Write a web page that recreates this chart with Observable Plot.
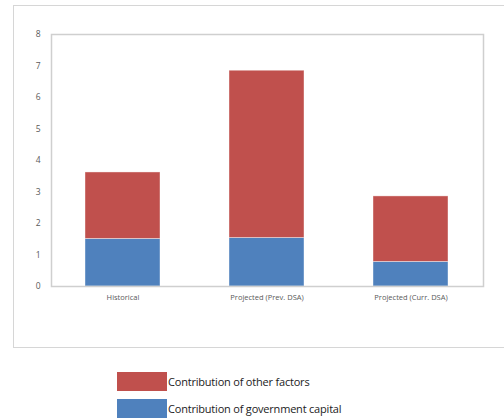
<!DOCTYPE html>
<html>
<head>
<meta charset="utf-8">
<script src="https://cdn.jsdelivr.net/npm/d3@7"></script>
<script src="https://cdn.jsdelivr.net/npm/@observablehq/plot@0.6"></script>
<style>
  body { margin: 0; background: #fff; width: 504px; height: 418px; overflow: hidden; position: relative; font-family: "Open Sans", Lato, sans-serif; }
  #box { position: absolute; left: 13px; top: 5px; width: 500px; height: 343px; border: 1.5px solid #d6d6d6; box-sizing: border-box; }
  #chart { position: absolute; left: 0; top: 0; }
  .leg { position: absolute; left: 117px; display: flex; align-items: center; font-size: 11px; color: #222; font-family: "Open Sans", sans-serif; letter-spacing: -0.2px; }
  .sw { width: 50px; height: 19px; margin-right: 1px; }
</style>
</head>
<body>
<div id="box"></div>
<div id="chart"></div>
<div class="leg" style="top:372px"><div class="sw" style="background:#C0504D"></div><span>Contribution of other factors</span></div>
<div class="leg" style="top:399px"><div class="sw" style="background:#4F81BD"></div><span>Contribution of government capital</span></div>
<script>
const categories = ["Historical", "Projected (Prev. DSA)", "Projected (Curr. DSA)"];
const seriesNames = ["Contribution of government capital", "Contribution of other factors"];
const govCapital = [1.51, 1.54, 0.78];
const otherFactors = [2.11, 5.31, 2.08];
const yTicks = [0, 1, 2, 3, 4, 5, 6, 7, 8];
const colors = ["#4F81BD", "#C0504D"];

const rows = [];
categories.forEach((c, i) => {
  rows.push({cat: c, series: seriesNames[0], value: govCapital[i]});
  rows.push({cat: c, series: seriesNames[1], value: otherFactors[i]});
});

const chart = Plot.plot({
  width: 504,
  height: 350,
  marginLeft: 51,
  marginRight: 21,
  marginTop: 34,
  marginBottom: 64,
  style: {fontFamily: "Open Sans, sans-serif", fontSize: "7.5px", color: "#595959", background: "transparent"},
  x: {domain: categories, paddingInner: 0.476, paddingOuter: 0.238, label: null, tickSize: 0, tickPadding: 8},
  y: {domain: [0, 8], ticks: yTicks, label: null, tickSize: 0, tickPadding: 11, tickFormat: d3.format("d")},
  color: {domain: seriesNames, range: colors},
  marks: [
    Plot.barY(rows, Plot.stackY({x: "cat", y: "value", fill: "series", order: seriesNames, stroke: "#ffffff", strokeOpacity: 0.5, strokeWidth: 0.8})),
    Plot.axisY({ticks: yTicks, tickSize: 0, tickPadding: 11, tickFormat: d3.format("d"), label: null, fontSize: 8.5}),
    Plot.frame({stroke: "#cfcfcf", strokeWidth: 1.5})
  ]
});
document.getElementById("chart").appendChild(chart);
</script>
</body>
</html>
